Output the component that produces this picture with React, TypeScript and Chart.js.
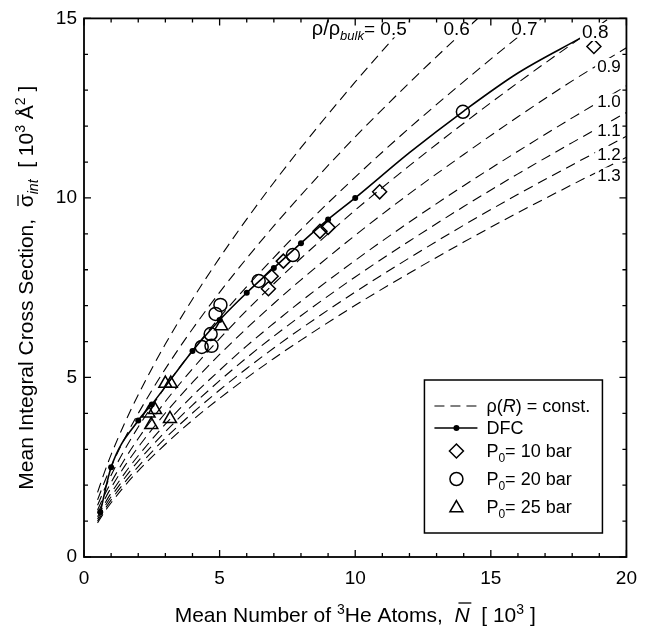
import React, { useEffect, useRef } from 'react';
import { Chart, registerables } from 'chart.js';

Chart.register(...registerables);

const FONT = '"Liberation Sans", Arial, Helvetica, sans-serif';

// ---- data ----
const curveN = [0.5, 0.75, 1, 1.5, 2, 3, 4, 5, 6, 7, 8, 10, 12, 14, 16, 18, 20];
const rhoLabels = ['0.5', '0.6', '0.7', '0.8', '0.9', '1.0', '1.1', '1.2', '1.3'];
const rho05 = [1.80, 2.35, 2.85, 3.73, 4.52, 5.93, 7.18, 8.33, 9.41, 10.43, 11.40, 13.23, 14.94, 16.56];
const rho06 = [1.59, 2.08, 2.52, 3.30, 4.00, 5.24, 6.35, 7.37, 8.32, 9.22, 10.08, 11.70, 13.21, 14.64, 16.00];
const rho07 = [1.44, 1.88, 2.28, 2.99, 3.62, 4.74, 5.75, 6.67, 7.53, 8.34, 9.12, 10.58, 11.95, 13.24, 14.48, 15.66];
const rho08 = [1.31, 1.72, 2.08, 2.72, 3.30, 4.33, 5.24, 6.08, 6.87, 7.61, 8.32, 9.66, 10.90, 12.08, 13.21, 14.29, 15.33];
const rho09 = [1.22, 1.59, 1.93, 2.53, 3.06, 4.01, 4.86, 5.64, 6.37, 7.06, 7.72, 8.96, 10.12, 11.21, 12.26, 13.26, 14.18];
const rho10 = [1.12, 1.47, 1.78, 2.33, 2.82, 3.70, 4.49, 5.20, 5.88, 6.51, 7.12, 8.26, 9.33, 10.34, 11.30, 12.23, 13.12];
const rho11 = [1.06, 1.39, 1.68, 2.20, 2.67, 3.49, 4.23, 4.91, 5.55, 6.15, 6.72, 7.80, 8.80, 9.76, 10.67, 11.54, 12.38];
const rho12 = [1.00, 1.31, 1.59, 2.08, 2.52, 3.31, 4.01, 4.65, 5.25, 5.82, 6.36, 7.38, 8.33, 9.24, 10.10, 10.92, 11.72];
const rho13 = [0.95, 1.25, 1.51, 1.98, 2.40, 3.14, 3.81, 4.42, 4.99, 5.53, 6.04, 7.01, 7.91, 8.77, 9.59, 10.37, 11.13];
const rhoCurves = [rho05, rho06, rho07, rho08, rho09, rho10, rho11, rho12, rho13];

const dfcN = [0.6, 1, 2, 2.5, 4, 5, 6, 7, 8, 9, 10, 12, 14, 16, 18.3];
const dfcSigma = [1.25, 2.5, 3.8, 4.25, 5.74, 6.6, 7.36, 8.05, 8.74, 9.4, 10.0, 11.26, 12.42, 13.48, 14.45];
const dfcHasDot = [1, 1, 1, 1, 1, 1, 1, 1, 1, 1, 1, 0, 0, 0, 0];

const p10N = [6.8, 6.9, 7.35, 8.7, 9.0, 10.9, 18.8];
const p10Sigma = [7.47, 7.82, 8.24, 9.07, 9.18, 10.17, 14.22];
const p20N = [4.34, 4.7, 4.67, 4.85, 5.03, 6.44, 7.7, 13.97];
const p20Sigma = [5.85, 5.88, 6.21, 6.77, 7.02, 7.69, 8.41, 12.4];
const p25N = [2.38, 2.62, 2.48, 3.0, 3.2, 3.17, 5.06];
const p25Sigma = [4.0, 4.1, 3.68, 4.83, 4.83, 3.85, 6.43];

const xTickLabels = ['0', '5', '10', '15', '20'];
const yTickLabels = ['0', '5', '10', '15'];

// label anchors (data units) for the curve labels
const rhoLabelAnchor: [number, number, 'left' | 'center' | 'right'][] = [
  [11.9, 14.55, 'right'],
  [13.74, 14.55, 'center'],
  [16.24, 14.55, 'center'],
  [18.85, 14.45, 'center'],
  [18.92, 13.52, 'left'],
  [18.92, 12.53, 'left'],
  [18.92, 11.73, 'left'],
  [18.92, 11.07, 'left'],
  [18.92, 10.47, 'left'],
];

type Part = { t: string; s: number; i?: boolean; dy?: number; bar?: number };

function fontOf(p: Part) {
  return `${p.i ? 'italic ' : ''}${p.s}px ${FONT}`;
}
function widthOf(ctx: CanvasRenderingContext2D, parts: Part[]) {
  let w = 0;
  for (const p of parts) {
    ctx.font = fontOf(p);
    w += ctx.measureText(p.t).width;
  }
  return w;
}
function drawParts(ctx: CanvasRenderingContext2D, parts: Part[], x: number, y: number) {
  let cx = x;
  ctx.textAlign = 'left';
  ctx.textBaseline = 'alphabetic';
  ctx.fillStyle = '#000';
  for (const p of parts) {
    ctx.font = fontOf(p);
    const w = ctx.measureText(p.t).width;
    ctx.fillText(p.t, cx, y + (p.dy || 0));
    if (p.bar) {
      const by = y + (p.dy || 0) - p.bar;
      const sh = p.i ? p.s * 0.12 : 0;
      ctx.save();
      ctx.strokeStyle = '#000';
      ctx.lineWidth = 1.3;
      ctx.beginPath();
      ctx.moveTo(cx + w * 0.1 + sh, by);
      ctx.lineTo(cx + w * 0.95 + sh, by);
      ctx.stroke();
      ctx.restore();
    }
    cx += w;
  }
  return cx - x;
}

function drawDiamond(ctx: CanvasRenderingContext2D, x: number, y: number, r: number) {
  ctx.beginPath();
  ctx.moveTo(x - r, y);
  ctx.lineTo(x, y - r);
  ctx.lineTo(x + r, y);
  ctx.lineTo(x, y + r);
  ctx.closePath();
  ctx.stroke();
}
function drawTriangle(ctx: CanvasRenderingContext2D, x: number, y: number, r: number) {
  ctx.beginPath();
  ctx.moveTo(x, y - r);
  ctx.lineTo(x + r * Math.sin((2 * Math.PI) / 3), y - r * Math.cos((2 * Math.PI) / 3));
  ctx.lineTo(x + r * Math.sin((4 * Math.PI) / 3), y - r * Math.cos((4 * Math.PI) / 3));
  ctx.closePath();
  ctx.stroke();
}

const decorPlugin = {
  id: 'decor',
  afterDatasetsDraw(chart: any) {
    const { ctx, chartArea: a, scales } = chart;
    const xs = scales.x;
    const ys = scales.y;
    ctx.save();

    // curve labels with white mask
    rhoLabels.forEach((lab, k) => {
      const [n, s, align] = rhoLabelAnchor[k];
      const size = k < 4 ? 19 : 17;
      const parts: Part[] =
        k === 0
          ? [
              { t: 'ρ/ρ', s: 20 },
              { t: 'bulk', s: 13, i: true, dy: 5 },
              { t: '= ', s: 19 },
              { t: lab, s: 19 },
            ]
          : [{ t: lab, s: size }];
      const w = widthOf(ctx, parts);
      const px = xs.getPixelForValue(n);
      const py = ys.getPixelForValue(s);
      let left = px;
      if (align === 'center') left = px - w / 2;
      if (align === 'right') left = px - w;
      ctx.fillStyle = '#fff';
      ctx.fillRect(left - 2, py - size * 0.8, w + 4, size * 0.95);
      drawParts(ctx, parts, left, py);
    });

    // frame
    ctx.strokeStyle = '#000';
    ctx.lineWidth = 1.8;
    ctx.strokeRect(a.left, a.top, a.right - a.left, a.bottom - a.top);

    // inward ticks on all four sides
    ctx.lineWidth = 1.3;
    ctx.beginPath();
    for (let v = 0; v <= 20; v++) {
      const px = xs.getPixelForValue(v);
      const len = v % 5 === 0 ? 7 : 4;
      ctx.moveTo(px, a.bottom);
      ctx.lineTo(px, a.bottom - len);
      ctx.moveTo(px, a.top);
      ctx.lineTo(px, a.top + len);
    }
    for (let v = 0; v <= 15; v++) {
      const py = ys.getPixelForValue(v);
      const len = v % 5 === 0 ? 7 : 4;
      ctx.moveTo(a.left, py);
      ctx.lineTo(a.left + len, py);
      ctx.moveTo(a.right, py);
      ctx.lineTo(a.right - len, py);
    }
    ctx.stroke();

    // legend
    const lx = a.right - 202;
    const ly = a.bottom - 177;
    const lw = 178;
    const lh = 153;
    ctx.fillStyle = '#fff';
    ctx.fillRect(lx, ly, lw, lh);
    ctx.lineWidth = 1.5;
    ctx.strokeStyle = '#000';
    ctx.strokeRect(lx, ly, lw, lh);
    const sx0 = lx + 10;
    const sx1 = lx + 53;
    const mx = lx + 32;
    const tx = lx + 62;
    const rows = [ly + 26, ly + 48, ly + 71, ly + 99, ly + 127];
    // row 1 dashed
    ctx.lineWidth = 1.1;
    ctx.setLineDash([10, 6]);
    ctx.beginPath();
    ctx.moveTo(sx0, rows[0]);
    ctx.lineTo(sx1, rows[0]);
    ctx.stroke();
    ctx.setLineDash([]);
    drawParts(ctx, [{ t: 'ρ(', s: 18 }, { t: 'R', s: 18, i: true }, { t: ') = const.', s: 18 }], tx, rows[0] + 6);
    // row 2 DFC
    ctx.lineWidth = 1.6;
    ctx.beginPath();
    ctx.moveTo(sx0, rows[1]);
    ctx.lineTo(sx1, rows[1]);
    ctx.stroke();
    ctx.fillStyle = '#000';
    ctx.beginPath();
    ctx.arc(mx, rows[1], 3, 0, Math.PI * 2);
    ctx.fill();
    drawParts(ctx, [{ t: 'DFC', s: 18 }], tx, rows[1] + 6);
    // markers
    ctx.lineWidth = 1.5;
    drawDiamond(ctx, mx, rows[2], 7);
    drawParts(ctx, [{ t: 'P', s: 18 }, { t: '0', s: 12, dy: 5 }, { t: '= 10 bar', s: 18 }], tx, rows[2] + 6);
    ctx.beginPath();
    ctx.arc(mx, rows[3], 6.5, 0, Math.PI * 2);
    ctx.stroke();
    drawParts(ctx, [{ t: 'P', s: 18 }, { t: '0', s: 12, dy: 5 }, { t: '= 20 bar', s: 18 }], tx, rows[3] + 6);
    drawTriangle(ctx, mx, rows[4] + 1, 7.5);
    drawParts(ctx, [{ t: 'P', s: 18 }, { t: '0', s: 12, dy: 5 }, { t: '= 25 bar', s: 18 }], tx, rows[4] + 6);

    // axis titles
    const xTitle: Part[] = [
      { t: 'Mean Number of ', s: 21 },
      { t: '3', s: 14, dy: -8 },
      { t: 'He Atoms,  ', s: 21 },
      { t: 'N', s: 21, i: true, bar: 19 },
      { t: '  [ 10', s: 21 },
      { t: '3', s: 14, dy: -8 },
      { t: ' ]', s: 21 },
    ];
    const xw = widthOf(ctx, xTitle);
    drawParts(ctx, xTitle, (a.left + a.right) / 2 - xw / 2, a.bottom + 65);

    const yTitle: Part[] = [
      { t: 'Mean Integral Cross Section,  ', s: 21 },
      { t: 'σ', s: 21, bar: 15 },
      { t: 'int', s: 14, i: true, dy: 5 },
      { t: '  [ 10', s: 21 },
      { t: '3', s: 14, dy: -8 },
      { t: ' Å', s: 21 },
      { t: '2', s: 14, dy: -8 },
      { t: ' ]', s: 21 },
    ];
    const yw = widthOf(ctx, yTitle);
    ctx.save();
    ctx.translate(a.left - 51, (a.top + a.bottom) / 2);
    ctx.rotate(-Math.PI / 2);
    drawParts(ctx, yTitle, -yw / 2, 0);
    ctx.restore();

    ctx.restore();
  },
};

export default function App() {
  const ref = useRef<HTMLCanvasElement | null>(null);

  useEffect(() => {
    if (!ref.current) return;
    const curveSets = rhoCurves.map((vals, k) => ({
      label: 'rho ' + rhoLabels[k],
      data: vals.map((v, i) => ({ x: curveN[i], y: v })),
      showLine: true,
      borderColor: '#000',
      borderWidth: 1.1,
      borderDash: [10, 6],
      pointRadius: 0,
      cubicInterpolationMode: 'monotone' as const,
      order: 10,
    }));
    const markerBase = {
      showLine: false,
      borderColor: '#000',
      backgroundColor: 'rgba(0,0,0,0)',
      borderWidth: 1.5,
      order: 1,
    };
    const datasets: any[] = [
      ...curveSets,
      {
        label: 'DFC',
        data: dfcN.map((n, i) => ({ x: n, y: dfcSigma[i] })),
        showLine: true,
        borderColor: '#000',
        borderWidth: 1.6,
        pointRadius: dfcHasDot.map((d) => (d ? 3 : 0)),
        pointBackgroundColor: '#000',
        pointBorderColor: '#000',
        pointBorderWidth: 0,
        cubicInterpolationMode: 'monotone',
        order: 5,
      },
      {
        ...markerBase,
        label: 'P0 = 10 bar',
        data: p10N.map((n, i) => ({ x: n, y: p10Sigma[i] })),
        pointStyle: 'rectRot',
        pointRadius: 7,
      },
      {
        ...markerBase,
        label: 'P0 = 20 bar',
        data: p20N.map((n, i) => ({ x: n, y: p20Sigma[i] })),
        pointStyle: 'circle',
        pointRadius: 6.5,
      },
      {
        ...markerBase,
        label: 'P0 = 25 bar',
        data: p25N.map((n, i) => ({ x: n, y: p25Sigma[i] })),
        pointStyle: 'triangle',
        pointRadius: 7.5,
      },
    ];

    const chart = new Chart(ref.current, {
      type: 'scatter',
      data: { datasets },
      options: {
        animation: false,
        responsive: false,
        devicePixelRatio: 1,
        layout: { padding: { left: 8, right: 10, top: 11, bottom: 0 } },
        plugins: { legend: { display: false }, tooltip: { enabled: false } },
        scales: {
          x: {
            type: 'linear',
            min: 0,
            max: 20,
            ticks: {
              stepSize: 5,
              color: '#000',
              font: { family: FONT, size: 19 },
              padding: 10,
              maxRotation: 0,
              callback: (v: any) => {
                const idx = [0, 5, 10, 15, 20].indexOf(Number(v));
                return idx >= 0 ? xTickLabels[idx] : '';
              },
            },
            grid: { display: false, drawTicks: false },
            border: { display: false },
            afterFit: (s: any) => {
              s.height = 76;
            },
          },
          y: {
            type: 'linear',
            min: 0,
            max: 15,
            ticks: {
              stepSize: 5,
              color: '#000',
              font: { family: FONT, size: 19 },
              padding: 7,
              callback: (v: any) => {
                const idx = [0, 5, 10, 15].indexOf(Number(v));
                return idx >= 0 ? yTickLabels[idx] : '';
              },
            },
            grid: { display: false, drawTicks: false },
            border: { display: false },
            afterFit: (s: any) => {
              s.width = 76;
            },
          },
        },
      },
      plugins: [decorPlugin],
    });
    return () => chart.destroy();
  }, []);

  return (
    <div style={{ position: 'fixed', left: 0, top: 0, width: 647, height: 633, background: '#fff' }}>
      <canvas ref={ref} width={647} height={633} style={{ width: 647, height: 633, display: 'block' }} />
    </div>
  );
}
